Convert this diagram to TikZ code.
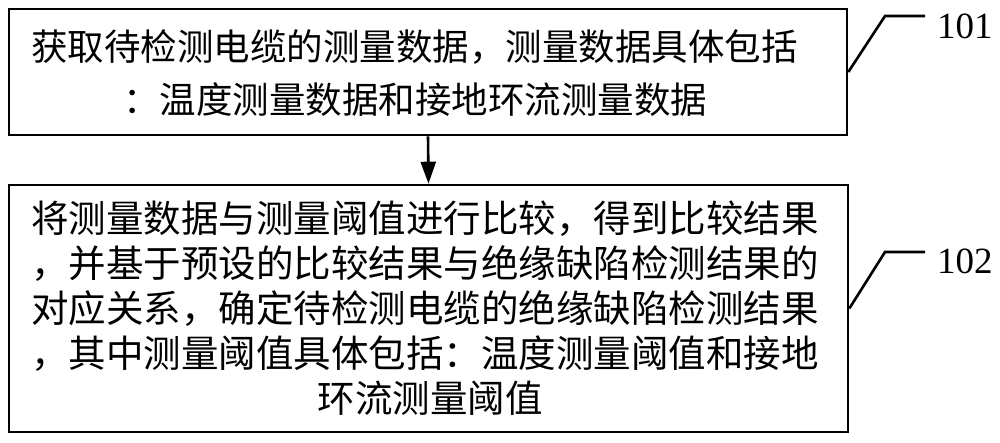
\documentclass[tikz,border=0pt]{standalone}
\usepackage{fontspec}
\setmainfont{Liberation Serif}
\newfontfamily\cjk{Noto Sans CJK SC}
\usetikzlibrary{arrows.meta}
\begin{document}
\begin{tikzpicture}[x=1pt,y=-1pt,
  boxstyle/.style={draw=black,line width=2.6pt,inner sep=0pt,fill=none},
  lineA/.style={anchor=base west,inner sep=0pt,font=\cjk\fontsize{36.5}{40}\selectfont},
  lineB/.style={anchor=base west,inner sep=0pt,font=\cjk\fontsize{37.5}{40}\selectfont},
  lineBc/.style={anchor=base,inner sep=0pt,font=\cjk\fontsize{37.5}{40}\selectfont},
  leader/.style={line width=2.6pt},
  flow/.style={line width=2.6pt,-{Triangle[length=22pt,width=15pt]}},
  numlabel/.style={anchor=base west,inner sep=0pt,font=\fontsize{37}{40}\selectfont}]
\useasboundingbox (0,0) rectangle (1000,442);
% boxes
\node[boxstyle,minimum width=838pt,minimum height=126pt] (b1) at (428,72) {};
\node[boxstyle,minimum width=839pt,minimum height=247pt] (b2) at (428.5,308.5) {};
% box 1 text
\node[lineA] (t11) at (31,60) {获取待检测电缆的测量数据，测量数据具体包括};
\node[lineA] (t12) at (123,113) {：温度测量数据和接地环流测量数据};
% box 2 text
\node[lineB] (t21) at (31,232) {将测量数据与测量阈值进行比较，得到比较结果};
\node[lineB] (t22) at (31,277) {，并基于预设的比较结果与绝缘缺陷检测结果的};
\node[lineB] (t23) at (31,322) {对应关系，确定待检测电缆的绝缘缺陷检测结果};
\node[lineB] (t24) at (31,367) {，其中测量阈值具体包括：温度测量阈值和接地};
\node[lineBc] (t25) at (430,412) {环流测量阈值};
% arrow
\draw[flow] (b1.south) -- (b2.north);
% leaders and labels
\coordinate (k1) at (885,16);
\coordinate (e1) at (925,16);
\coordinate (k2) at (885,252);
\coordinate (e2) at (925,252);
\draw[leader] (b1.east) -- (k1) -- (e1);
\draw[leader] (b2.east) -- (k2) -- (e2);
\node[numlabel] (n1) at (937,38) {101};
\node[numlabel] (n2) at (937,273) {102};
\end{tikzpicture}
\end{document}
